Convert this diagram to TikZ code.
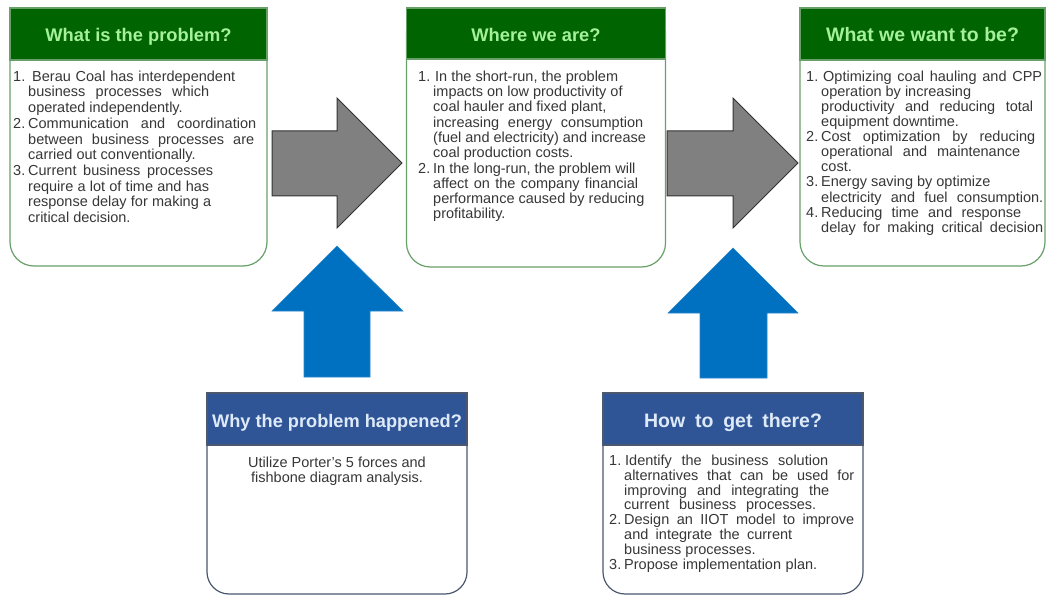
\documentclass[tikz,border=0pt]{standalone}
\usepackage{fontspec}
\setmainfont{Liberation Sans}
\definecolor{hdrgreen}{RGB}{0,100,0}
\definecolor{hdrgreentext}{RGB}{165,240,155}
\definecolor{boxgreen}{RGB}{105,160,105}
\definecolor{hdrblue}{RGB}{47,85,151}
\definecolor{hdrbluetext}{RGB}{222,234,248}
\definecolor{boxblue}{RGB}{75,88,110}
\definecolor{arrowblue}{RGB}{0,112,192}
\definecolor{arrowgray}{RGB}{128,128,128}
\definecolor{arrowline}{RGB}{50,50,50}
\definecolor{bodytext}{RGB}{55,55,55}
\newlength\itmind
\setlength\itmind{15pt}
% numbered line, continuation line, and a line spread to a given width
\newcommand{\numitem}[2]{\makebox[\itmind][l]{#1}#2}
\newcommand{\contline}[1]{\hspace*{\itmind}#1}
\newcommand{\jl}[2]{\makebox[#1pt][s]{#2}}
\tikzset{
  topbox/.style={draw=boxgreen, line width=1.2pt, fill=white, rounded corners=24pt, inner sep=0pt},
  botbox/.style={draw=boxblue, line width=1.2pt, fill=white, rounded corners=22pt, inner sep=0pt},
  hdr/.style={line width=1.2pt, inner sep=0pt, anchor=north, text height=17pt, text depth=1pt},
  greenhdr/.style={hdr, draw=boxgreen, fill=hdrgreen, text=hdrgreentext},
  bluehdr/.style={hdr, draw=boxblue, fill=hdrblue, text=hdrbluetext},
  bodytxt/.style={text=bodytext, align=left, inner sep=0pt, anchor=north west},
  grayarrow/.style={fill=arrowgray, draw=arrowline, line width=1pt, line join=miter},
  bluearrow/.style={fill=arrowblue, draw=arrowblue!85!white, line width=0.6pt, line join=miter},
}
\newcommand{\hfont}[1]{\fontsize{#1}{#1}\selectfont\bfseries}
\newcommand{\bfont}[1]{\fontsize{14.5}{#1}\selectfont}
\begin{document}
\begin{tikzpicture}[x=1pt, y=-1pt]
\useasboundingbox (0,0) rectangle (1047,596);

% --- upper row of boxes ---
\node[topbox, minimum width=257pt, minimum height=258pt] (prob) at (138.5,137) {};
\node[greenhdr, minimum width=257pt, minimum height=52pt, font=\hfont{18.3}] (probh) at (prob.north) {What is the problem?};
\node[topbox, minimum width=259pt, minimum height=259pt] (now) at (536,137.5) {};
\node[greenhdr, minimum width=259pt, minimum height=51pt, font=\hfont{18.3}] (nowh) at (now.north) {Where we are?};
\node[topbox, minimum width=245pt, minimum height=258pt] (goal) at (922.5,137) {};
\node[greenhdr, minimum width=245pt, minimum height=52pt, font=\hfont{19.5}] (goalh) at (goal.north) {What we want to be?};

% --- lower row of boxes ---
\node[botbox, minimum width=260pt, minimum height=201pt] (why) at (337,493.5) {};
\node[bluehdr, minimum width=260pt, minimum height=52pt, font=\hfont{18.2}] (whyh) at (why.north) {Why the problem happened?};
\node[botbox, minimum width=260pt, minimum height=201pt] (how) at (733,493.5) {};
\node[bluehdr, minimum width=260pt, minimum height=52pt, font=\hfont{19.5}] (howh) at (how.north) {\jl{178}{How to get there?}};

% --- box texts ---
\node[bodytxt, font=\bfont{15.7}] (probt) at (13,70.5) {\setlength\itmind{19pt}%
\numitem{1.}{\jl{203}{Berau Coal has interdependent}}\\
\contline{\jl{181}{business processes which}}\\
\contline{operated independently.}\\
\numitem{2.}{\jl{228}{Communication and coordination}}\\
\contline{\jl{226}{between business processes are}}\\
\contline{carried out conventionally.}\\
\numitem{3.}{\jl{185}{Current business processes}}\\
\contline{\jl{181}{require a lot of time and has}}\\
\contline{\jl{183}{response delay for making a}}\\
\contline{critical decision.}};

\node[bodytxt, font=\bfont{15.3}] (nowt) at (418,70.5) {\setlength\itmind{17pt}%
\numitem{1.}{In the short-run, the problem}\\
\contline{impacts on low productivity of}\\
\contline{coal hauler and fixed plant,}\\
\contline{\jl{210}{increasing energy consumption}}\\
\contline{(fuel and electricity) and increase}\\
\contline{coal production costs.}\\
\numitem{2.}{In the long-run, the problem will}\\
\contline{\jl{205}{affect on the company financial}}\\
\contline{performance caused by reducing}\\
\contline{profitability.}};

\node[bodytxt, font=\bfont{15.1}] (goalt) at (806,70.5) {\setlength\itmind{17pt}%
\numitem{1.}{\jl{219}{Optimizing coal hauling and CPP}}\\
\contline{operation by increasing}\\
\contline{\jl{212}{productivity and reducing total}}\\
\contline{equipment downtime.}\\
\numitem{2.}{\jl{214}{Cost optimization by reducing}}\\
\contline{\jl{199}{operational and maintenance}}\\
\contline{cost.}\\
\numitem{3.}{Energy saving by optimize}\\
\contline{\jl{222}{electricity and fuel consumption.}}\\
\numitem{4.}{\jl{200}{Reducing time and response}}\\
\contline{\jl{222}{delay for making critical decision}}};

\node[text=bodytext, font=\bfont{15.2}, align=center, inner sep=0pt, anchor=north]
  (whyt) at (337,457) {Utilize Porter's 5 forces and\\fishbone diagram analysis.};

\node[bodytxt, font=\bfont{14.9}] (howt) at (609,454.5) {\setlength\itmind{16pt}%
\numitem{1.}{\jl{203}{Identify the business solution}}\\
\contline{\jl{230}{alternatives that can be used for}}\\
\contline{\jl{205}{improving and integrating the}}\\
\contline{\jl{192}{current business processes.}}\\
\numitem{2.}{\jl{230}{Design an IIOT model to improve}}\\
\contline{\jl{168}{and integrate the current}}\\
\contline{business processes.}\\
\numitem{3.}{\jl{193}{Propose implementation plan.}}};

% --- grey block arrows between the upper boxes ---
\draw[grayarrow] (272,131) -- (337,131) -- (337,98) -- (402,163) -- (337,228) -- (337,196) -- (272,196) -- cycle;
\draw[grayarrow] (667,131) -- (733,131) -- (733,98) -- (798,163) -- (733,228) -- (733,196) -- (667,196) -- cycle;

% --- blue block arrows rising from the lower boxes ---
\draw[bluearrow] (337,246) -- (403,311) -- (370,311) -- (370,377) -- (304,377) -- (304,311) -- (272,311) -- cycle;
\draw[bluearrow] (733,248) -- (798,313) -- (767,313) -- (767,378) -- (700,378) -- (700,313) -- (668,313) -- cycle;
\end{tikzpicture}
\end{document}
